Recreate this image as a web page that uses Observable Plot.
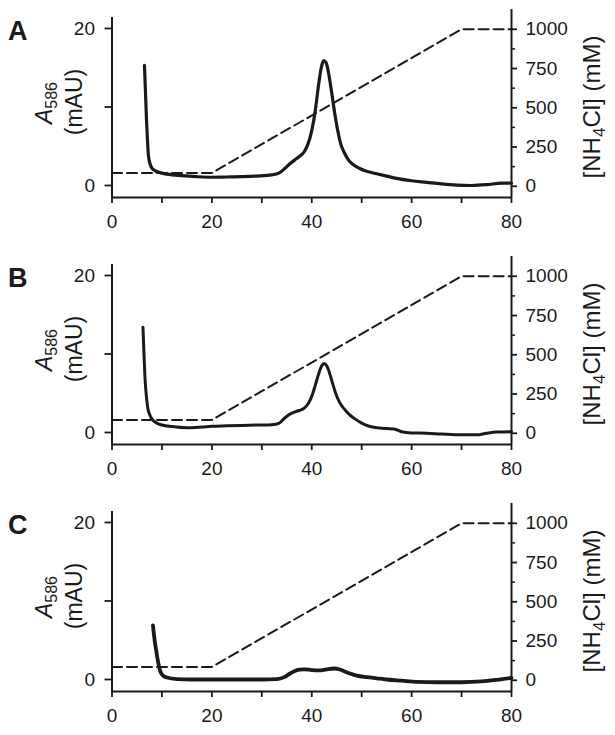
<!DOCTYPE html>
<html><head><meta charset="utf-8">
<script src="https://cdn.jsdelivr.net/npm/d3@7"></script>
<script src="https://cdn.jsdelivr.net/npm/@observablehq/plot@0.6"></script>
<style>
body{margin:0;background:#fff;}
#chart svg{display:block;}
</style>
</head><body><div id="chart"></div>
<script>
// ---- Data ----
const panelLabels = ["A", "B", "C"];

// Panel A: elution time (min) and A586 (mAU)
const timeA = [6.5,6.7,6.9,7.1,7.3,7.6,8.0,8.6,9.5,11,14,17,20,23,26,29,32,33.5,34.5,35.5,36.5,37.5,38.5,39.2,40,40.7,41.3,41.9,42.4,42.9,43.4,44,44.6,45.2,45.8,46.5,47.3,48.2,49.5,51,53,55,57,60,63,66,69,72,75,78,80];
const absA  = [15.3,12,8.5,5.8,3.8,2.8,2.2,1.9,1.65,1.45,1.25,1.12,1.05,1.08,1.12,1.2,1.35,1.6,2.1,2.7,3.2,3.7,4.3,5.2,7.0,9.5,12.5,15.0,15.9,15.6,14.2,11.8,9.2,7.0,5.3,4.2,3.3,2.7,2.2,1.8,1.5,1.2,0.9,0.6,0.4,0.2,0.05,0.0,0.1,0.3,0.3];

// Panel B
const timeB = [6.2,6.4,6.6,6.9,7.2,7.6,8.0,8.7,10,12,15,18,20,23,26,29,32,33.5,34.5,35.5,36.5,37.5,38.5,39.3,40,40.7,41.4,42,42.5,43,43.6,44.2,44.9,45.6,46.5,47.5,48.5,50,51.5,53,55,56.5,58,60,63,66,70,73,75,77,80];
const absB  = [13.4,10,7,4.5,3.0,2.2,1.7,1.3,0.95,0.75,0.6,0.7,0.8,0.85,0.9,0.95,1.0,1.2,1.8,2.3,2.6,2.8,3.1,3.7,4.6,6.0,7.5,8.5,8.8,8.5,7.5,6.2,4.8,3.8,3.0,2.3,1.8,1.2,0.8,0.6,0.5,0.45,0.1,-0.05,-0.1,-0.2,-0.3,-0.3,-0.1,0.05,0.1];

// Panel C
const timeC = [8.2,8.5,8.9,9.3,9.7,10.2,11,13,16,20,25,30,33,34.5,35.5,36.5,37.5,38.5,40,41.5,43,44.5,45.5,46.5,47.5,49,51,53,55,58,61,65,70,74,77,80];
const absC  = [6.9,5.2,3.5,2.0,1.0,0.5,0.25,0.05,0.0,0.0,0.0,0.0,0.05,0.3,0.7,1.05,1.25,1.3,1.2,1.15,1.3,1.4,1.3,1.05,0.8,0.5,0.3,0.15,0.0,-0.15,-0.3,-0.35,-0.35,-0.25,-0.05,0.2];

// NH4Cl gradient (mM)
const gradTime   = [0, 20, 70, 80];
const gradNH4Cl  = [85, 85, 1000, 1000];

// Tick values
const xTicks = [0, 20, 40, 60, 80];
const xMinorTicks = [10, 30, 50, 70];
const yTicks = [0, 20];
const yMinorTicks = [10];
const rTicks = [0, 250, 500, 750, 1000];
const rMinorTicks = [125, 375, 625, 875];

const panels = [
  {label: panelLabels[0], time: timeA, abs: absA, sw: 3.2},
  {label: panelLabels[1], time: timeB, abs: absB, sw: 3.0},
  {label: panelLabels[2], time: timeC, abs: absC, sw: 3.8}
];

// mM -> mAU mapping for the secondary axis
const toAbs = m => m * 0.02 - 0.1;
const fromAbs = a => String(Math.round((a + 0.1) / 0.02));

const FONT = "'Liberation Sans', Arial, Helvetica, sans-serif";
const yMin = -1.53, yMax = 21.4, rTop = 22.42;
const INK = "#1a1a1a";

function makePanel(p, h) {
  const svg = Plot.plot({
    width: 615, height: h,
    marginLeft: 111.5, marginRight: 104, marginTop: 17, marginBottom: h - 197,
    x: {domain: [0, 80]},
    y: {domain: [yMin, yMax]},
    style: {fontFamily: FONT, fontSize: "19px", color: INK, background: "#fff"},
    marks: [
      Plot.ruleY([yMin], {stroke: INK, strokeWidth: 2}),
      Plot.ruleX([0], {stroke: INK, strokeWidth: 2}),
      Plot.ruleX([80], {y1: yMin, y2: rTop, stroke: INK, strokeWidth: 2}),
      Plot.axisX(xTicks, {tickSize: 6, tickPadding: 11, strokeWidth: 1.8, fontSize: 19, label: null}),
      Plot.axisX(xMinorTicks, {tickSize: 6, strokeWidth: 1.8, tickFormat: () => "", label: null}),
      Plot.axisY(yTicks, {anchor: "left", tickSize: 7, tickPadding: 10, strokeWidth: 1.8, fontSize: 19, label: null}),
      Plot.axisY(yMinorTicks, {anchor: "left", tickSize: 7, strokeWidth: 1.8, tickFormat: () => "", label: null}),
      Plot.axisY(rTicks.map(toAbs), {anchor: "right", tickSize: 5, tickPadding: 9, strokeWidth: 1.8, fontSize: 19, tickFormat: fromAbs, label: null}),
      Plot.axisY(rMinorTicks.map(toAbs), {anchor: "right", tickSize: 3, strokeWidth: 1.5, tickFormat: () => "", label: null}),
      Plot.line(gradTime, {x: d => d, y: (d, i) => toAbs(gradNH4Cl[i]), stroke: INK, strokeWidth: 2, strokeDasharray: "10,5"}),
      Plot.line(p.time, {x: d => d, y: (d, i) => p.abs[i], stroke: INK, strokeWidth: p.sw, curve: "monotone-x"})
    ]
  });
  const s = d3.select(svg);
  s.append("text").attr("x", 8).attr("y", 40).attr("text-anchor", "start")
    .style("font-family", FONT).style("font-weight", "bold").style("font-size", "27px").attr("fill", INK)
    .text(p.label);
  const l1 = s.append("text").attr("transform", "translate(52,103) rotate(-90)")
    .attr("text-anchor", "middle").style("font-family", FONT).style("font-size", "23px").attr("fill", INK);
  l1.append("tspan").style("font-style", "italic").text("A");
  l1.append("tspan").style("font-size", "16px").attr("dy", 5).text("586");
  s.append("text").attr("transform", "translate(82,102) rotate(-90)")
    .attr("text-anchor", "middle").style("font-family", FONT).style("font-size", "23px").attr("fill", INK)
    .text("(mAU)");
  const r = s.append("text").attr("transform", "translate(600,107) rotate(-90)")
    .attr("text-anchor", "middle").style("font-family", FONT).style("font-size", "24px").attr("fill", INK);
  r.append("tspan").text("[NH");
  r.append("tspan").style("font-size", "17px").attr("dy", 5).text("4");
  r.append("tspan").attr("dy", -5).text("Cl] (mM)");
  return svg;
}

const root = document.getElementById("chart");
panels.forEach((p, i) => root.appendChild(makePanel(p, i < 2 ? 247 : 241)));
</script>
</body></html>
